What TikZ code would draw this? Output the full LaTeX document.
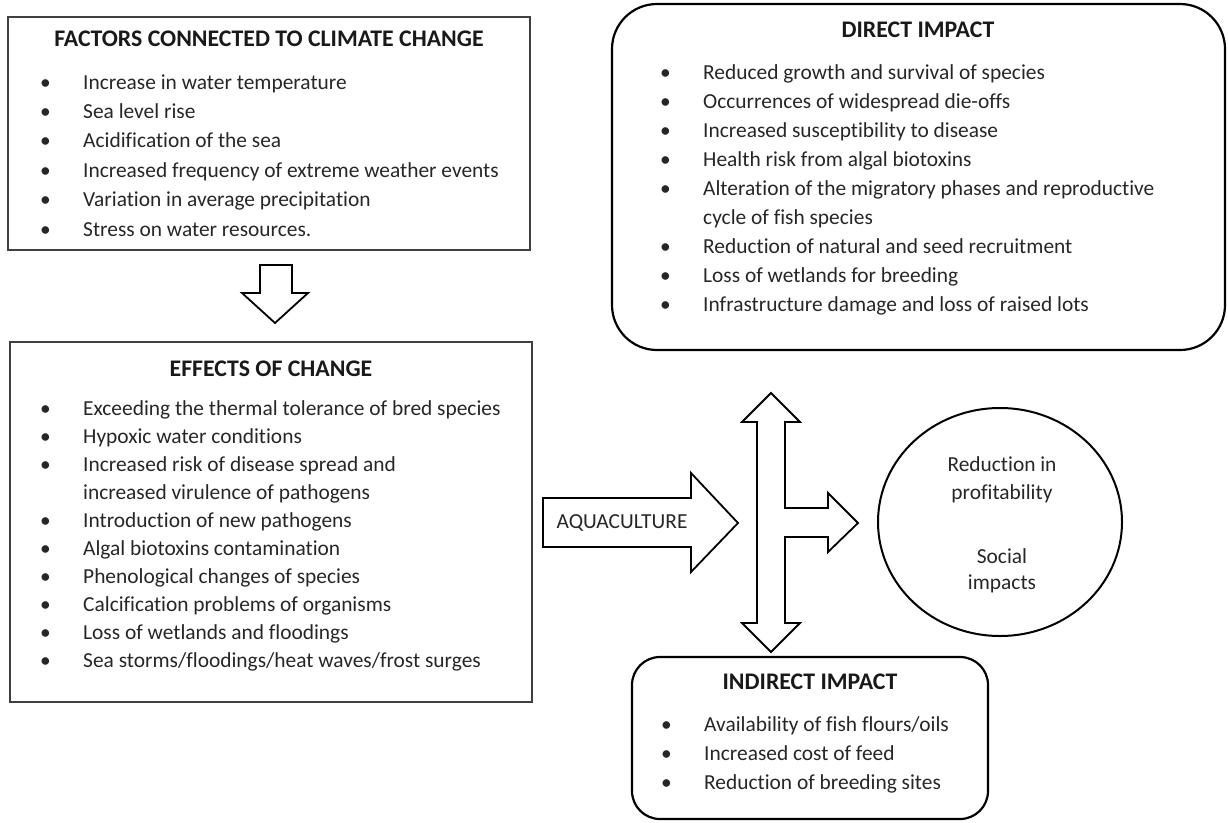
\documentclass[tikz,border=0pt]{standalone}
\usepackage{fontspec}
\setmainfont{Carlito}[Ligatures=NoCommon]
\usetikzlibrary{positioning,shapes.geometric}

\newcommand{\bul}{\makebox[43pt][l]{\textbullet}}
\newcommand{\nob}{\hspace*{43pt}}

\begin{document}
\begin{tikzpicture}[
    x=1pt, y=-1pt,
    inner sep=0pt,
    sqbox/.style={rectangle,draw=black!75,line width=1.4pt},
    rndbox/.style={rectangle,draw=black,line width=2.2pt,
        rounded corners=#1},
    ttl/.style={font=\fontsize{23.8}{28}\selectfont\bfseries,text=black!90},
    itm/.style={anchor=base west,font=\fontsize{21.4}{25}\selectfont,
        text=black!85},
    blk/.style={draw=black,line width=1.8pt,fill=white,line join=miter},
    ]
    \useasboundingbox (0,0) rectangle (1228,822);

    % the four boxes and the circle
    \node[sqbox,minimum width=522pt,minimum height=233pt] (factors) at (269,133.5) {};
    \node[sqbox,minimum width=522pt,minimum height=360pt] (effects) at (271,522) {};
    \node[rndbox=45pt,minimum width=613pt,minimum height=346pt] (direct) at (918.5,177) {};
    \node[rndbox=28pt,minimum width=356pt,minimum height=162pt] (indirect) at (810,738) {};
    \node[ellipse,draw=black,line width=2pt,minimum width=244pt,
        minimum height=228pt] (gain) at (1000,522) {};

    % titles
    \node[ttl] (factorsT) at (269,39) {FACTORS CONNECTED TO CLIMATE CHANGE};
    \node[ttl] (effectsT) at (271,369) {EFFECTS OF CHANGE};
    \node[ttl] (directT) at (918,30) {DIRECT IMPACT};
    \node[ttl] (indirectT) at (810,682) {INDIRECT IMPACT};

    % bullet lists
    \foreach \t [count=\i from 0] in {
        \bul Increase in water temperature,
        \bul Sea level rise,
        \bul Acidification of the sea,
        \bul Increased frequency of extreme weather events,
        \bul Variation in average precipitation,
        \bul Stress on water resources.}
        \node[itm] (fac\i) at (40,89+29.4*\i) {\t};

    \foreach \t [count=\i from 0] in {
        \bul Exceeding the thermal tolerance of bred species,
        \bul Hypoxic water conditions,
        \bul Increased risk of disease spread and,
        \nob increased virulence of pathogens,
        \bul Introduction of new pathogens,
        \bul Algal biotoxins contamination,
        \bul Phenological changes of species,
        \bul Calcification problems of organisms,
        \bul Loss of wetlands and floodings,
        \bul Sea storms/floodings/heat waves/frost surges}
        \node[itm] (eff\i) at (40,415+28*\i) {\t};

    \foreach \t [count=\i from 0] in {
        \bul Reduced growth and survival of species,
        \bul Occurrences of widespread die-offs,
        \bul Increased susceptibility to disease,
        \bul Health risk from algal biotoxins,
        \bul Alteration of the migratory phases and reproductive,
        \nob cycle of fish species,
        \bul Reduction of natural and seed recruitment,
        \bul Loss of wetlands for breeding,
        \bul Infrastructure damage and loss of raised lots}
        \node[itm] (dir\i) at (660,79+29*\i) {\t};

    \foreach \t [count=\i from 0] in {
        \bul Availability of fish flours/oils,
        \bul Increased cost of feed,
        \bul Reduction of breeding sites}
        \node[itm] (ind\i) at (661,731+29*\i) {\t};

    % circle text
    \node[font=\fontsize{21.4}{28}\selectfont,text=black!85,align=center]
        (profit) at (1002,480) {Reduction in\\profitability};
    \node[font=\fontsize{21.4}{26}\selectfont,text=black!85,align=center]
        (social) at (1002,571) {Social\\impacts};

    % block arrows
    \draw[blk] (260,265) -- (292,265) -- (292,293) -- (308,293)
        -- (275,323) -- (242,293) -- (260,293) -- cycle;
    \draw[blk] (543,498) -- (691,498) -- (691,473) -- (738,523)
        -- (691,572) -- (691,547) -- (543,547) -- cycle;
    \node[font=\fontsize{21.4}{25}\selectfont,text=black!85]
        (aqua) at (622,523) {AQUACULTURE};
    \draw[blk] (771,393) -- (800,422) -- (785,422) -- (785,508)
        -- (828,508) -- (828,493) -- (858,523) -- (828,552)
        -- (828,537) -- (785,537) -- (785,623) -- (800,623)
        -- (771,652) -- (742,623) -- (757,623) -- (757,422)
        -- (742,422) -- cycle;
\end{tikzpicture}
\end{document}
